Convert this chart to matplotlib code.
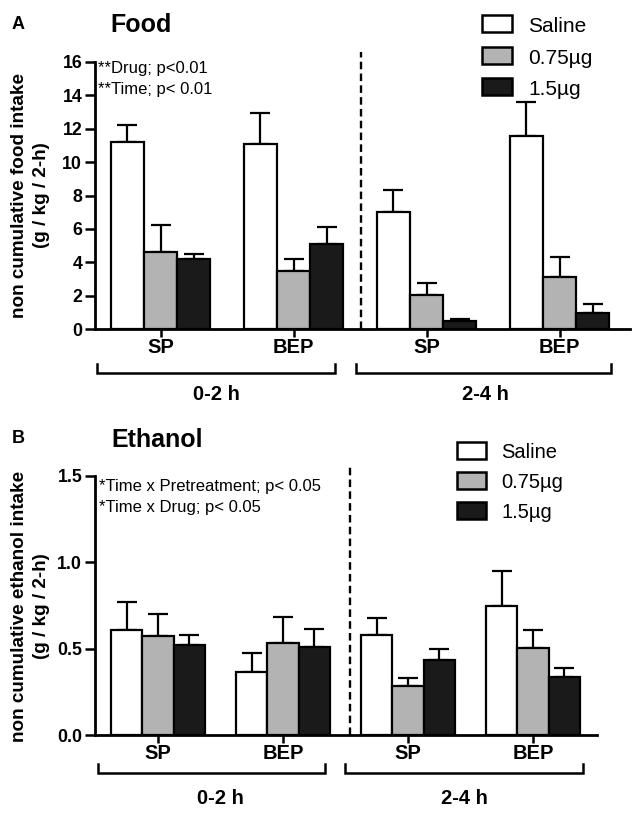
import matplotlib
matplotlib.use("Agg")
import matplotlib.pyplot as plt
import matplotlib.transforms as mtransforms
from matplotlib.patches import Rectangle
import numpy as np

plt.rcParams['font.family'] = ['Liberation Sans', 'DejaVu Sans']

# ---------------- data ----------------
categories = ["SP", "BEP", "SP", "BEP"]
periods = ["0-2 h", "2-4 h"]
series = ["Saline", "0.75\u00b5g", "1.5\u00b5g"]
colors = ["#ffffff", "#b3b3b3", "#1a1a1a"]

food_saline = [11.2, 11.1, 7.04, 11.54]
food_saline_sem = [1.0, 1.85, 1.26, 2.06]
food_075 = [4.64, 3.48, 2.04, 3.14]
food_075_sem = [1.6, 0.72, 0.74, 1.16]
food_15 = [4.18, 5.08, 0.48, 0.98]
food_15_sem = [0.32, 1.06, 0.12, 0.52]

eth_saline = [0.61, 0.367, 0.578, 0.747]
eth_saline_sem = [0.16, 0.11, 0.097, 0.204]
eth_075 = [0.573, 0.53, 0.284, 0.502]
eth_075_sem = [0.127, 0.155, 0.048, 0.106]
eth_15 = [0.52, 0.508, 0.434, 0.338]
eth_15_sem = [0.06, 0.106, 0.062, 0.048]

food_ticks = [0, 2, 4, 6, 8, 10, 12, 14, 16]
eth_ticks = [0.0, 0.5, 1.0, 1.5]
eth_ticklabels = ["0.0", "0.5", "1.0", "1.5"]

# ---------------- figure ----------------
W, H = 638, 815
fig = plt.figure(figsize=(W / 100, H / 100), dpi=100)

def fx(px):
    return px / W

def fy(py):
    return 1 - py / H

axA = fig.add_axes([fx(95), fy(329), 535 / W, 267 / H])
axB = fig.add_axes([fx(95), fy(735), 502 / W, 259 / H])

bw = 0.25
x = np.arange(len(categories))


def draw_panel(ax, vals, sems, ylim, yticks, yticklabels, xlim):
    for i, (v, s, c) in enumerate(zip(vals, sems, colors)):
        pos = x + (i - 1) * bw
        ax.bar(pos, v, width=bw, color=c, edgecolor="black", linewidth=1.6,
               zorder=3)
        ax.errorbar(pos, v, yerr=[np.zeros(len(s)), s], fmt="none",
                    ecolor="black", elinewidth=1.6, capsize=7.5,
                    capthick=1.6, zorder=2)
    ax.set_xlim(*xlim)
    ax.set_ylim(*ylim)
    ax.set_yticks(yticks)
    ax.set_yticklabels(yticklabels, fontsize=12.8, fontweight="bold")
    ax.set_xticks(x)
    ax.set_xticklabels(categories, fontsize=14.5, fontweight="bold")
    for sp in ["top", "right"]:
        ax.spines[sp].set_visible(False)
    for sp in ["left", "bottom"]:
        ax.spines[sp].set_linewidth(2.0)
    ax.tick_params(axis="y", direction="out", length=7.2, width=1.8, pad=2)
    ax.tick_params(axis="x", direction="out", length=5.5, width=1.8, pad=1)


draw_panel(axA, [food_saline, food_075, food_15],
           [food_saline_sem, food_075_sem, food_15_sem],
           (0, 16), food_ticks, [str(t) for t in food_ticks], (-0.4925, 3.53))
draw_panel(axB, [eth_saline, eth_075, eth_15],
           [eth_saline_sem, eth_075_sem, eth_15_sem],
           (0, 1.5), eth_ticks, eth_ticklabels, (-0.504, 3.512))

# dashed separators
axA.axvline(1.508, ymin=0, ymax=1.037, color="black", lw=1.7,
            dashes=(3.2, 1.8), clip_on=False, zorder=1)
axB.axvline(1.536, ymin=0, ymax=1.035, color="black", lw=1.7,
            dashes=(3.2, 1.8), clip_on=False, zorder=1)

# brackets and period labels
def brackets(ax, spans, ybr, ylab, labx):
    tr = mtransforms.blended_transform_factory(ax.transData, fig.transFigure)
    tick = 9 / H
    for (a, b), lx, lab in zip(spans, labx, periods):
        ax.plot([a, a, b, b], [fy(ybr) + tick, fy(ybr), fy(ybr), fy(ybr) + tick],
                color="black", lw=1.8, transform=tr, clip_on=False,
                solid_joinstyle="miter")
        ax.text(lx, fy(ylab), lab, transform=tr, ha="center", va="baseline",
                fontsize=14.5, fontweight="bold")

brackets(axA, [(-0.477, 1.312), (1.47, 3.387)], 372.7, 400, [0.42, 2.44])
brackets(axB, [(-0.48, 1.336), (1.496, 3.4)], 773, 804, [0.496, 2.45])

# panel letters and titles
fig.text(fx(12), fy(29), "A", fontsize=13, fontweight="bold", va="baseline")
fig.text(fx(141), fy(32), "Food", fontsize=18, fontweight="bold",
         ha="center", va="baseline")
fig.text(fx(12), fy(443), "B", fontsize=13, fontweight="bold", va="baseline")
fig.text(fx(157), fy(447), "Ethanol", fontsize=18, fontweight="bold",
         ha="center", va="baseline")

# y labels
fig.text(fx(20), fy(195), "non cumulative food intake", rotation=90,
         fontsize=13.6, fontweight="bold", ha="center", va="center")
fig.text(fx(42), fy(195), "(g / kg / 2-h)", rotation=90,
         fontsize=13.6, fontweight="bold", ha="center", va="center")
fig.text(fx(20), fy(606), "non cumulative ethanol intake", rotation=90,
         fontsize=13.6, fontweight="bold", ha="center", va="center")
fig.text(fx(42), fy(606), "(g / kg / 2-h)", rotation=90,
         fontsize=13.6, fontweight="bold", ha="center", va="center")

# statistics annotations
fig.text(fx(98), fy(73), "**Drug; p<0.01", fontsize=12, va="baseline")
fig.text(fx(98), fy(94), "**Time; p< 0.01", fontsize=12, va="baseline")
fig.text(fx(99), fy(491), "*Time x Pretreatment; p< 0.05", fontsize=12,
         va="baseline")
fig.text(fx(99), fy(512), "*Time x Drug; p< 0.05", fontsize=12, va="baseline")

# legends
def legend(x0, x1, tops, h, tx, fs):
    for t, c, lab in zip(tops, colors, series):
        fig.add_artist(Rectangle((fx(x0), fy(t + h)), (x1 - x0) / W, h / H,
                                 transform=fig.transFigure, facecolor=c,
                                 edgecolor="black", linewidth=1.8))
        fig.text(fx(tx), fy(t + h), lab, fontsize=fs, va="baseline")

legend(482, 512, [14.5, 46.5, 78], 17, 528, 15)
legend(457, 486, [442, 472, 502], 16.5, 501, 14.5)

fig.savefig("out.png", dpi=100)
